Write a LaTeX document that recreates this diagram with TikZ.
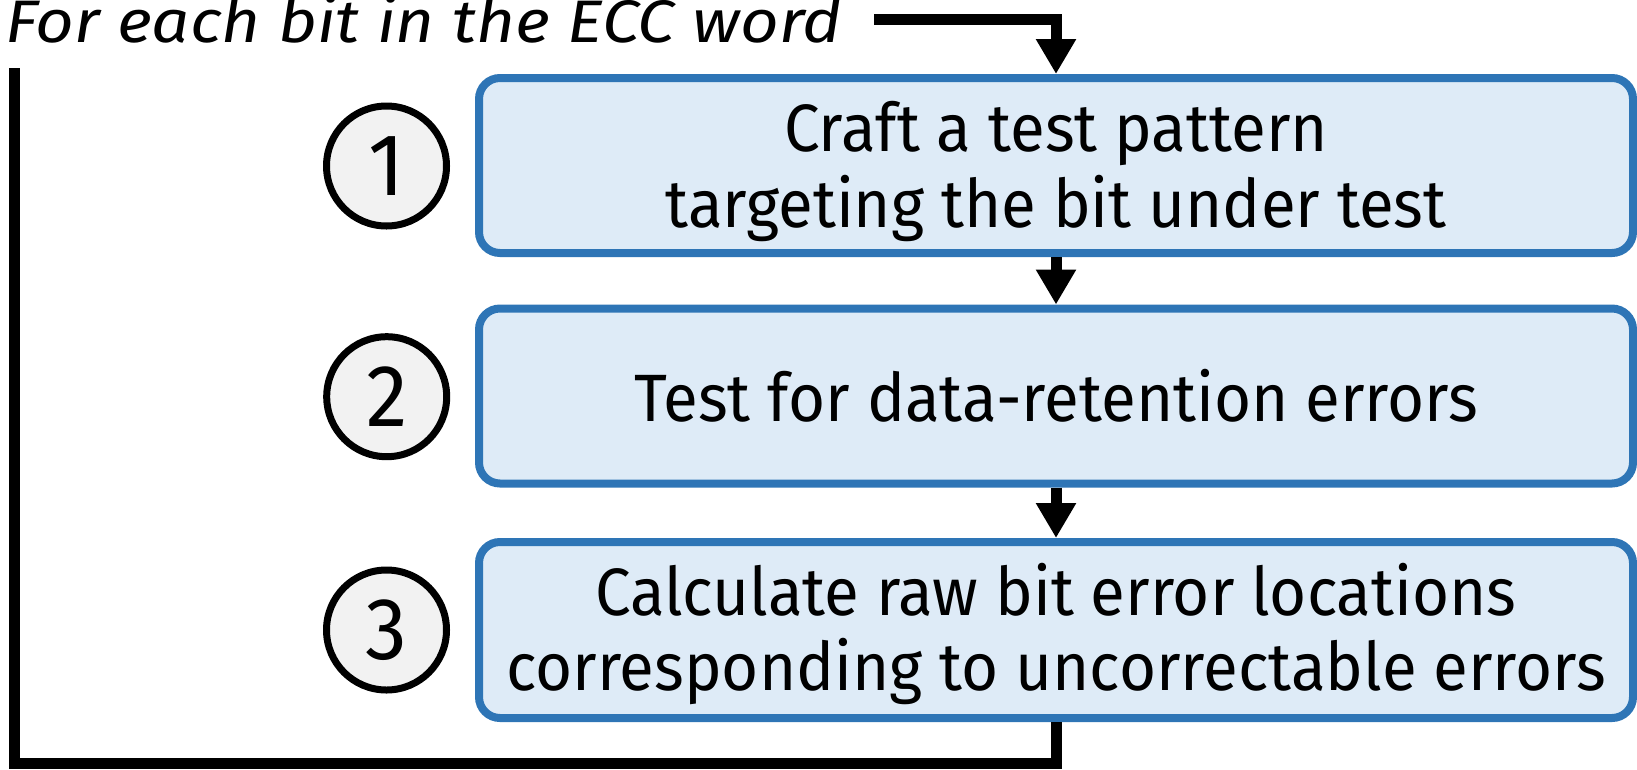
\documentclass[tikz,border=0pt]{standalone}
\usepackage{fontspec}
\setmainfont[FakeStretch=0.95]{Fira Sans}
\newfontfamily\headfont[FakeStretch=1.12]{Fira Sans}
\usetikzlibrary{arrows.meta}
\definecolor{boxblue}{HTML}{2E75B6}
\definecolor{boxfill}{HTML}{DEEBF7}
\definecolor{discfill}{HTML}{F2F2F2}
\tikzset{
  stepbox/.style={draw=boxblue, fill=boxfill, line width=8pt, rounded corners=21pt,
    minimum width=1154pt, minimum height=175pt, inner sep=0pt},
  numdisc/.style={circle, draw=black, fill=discfill, line width=7pt,
    minimum size=120pt, inner sep=0pt, font=\fontsize{88}{88}\selectfont},
  steptext/.style={anchor=base, inner sep=0pt, font=\fontsize{67}{75}\selectfont},
  flow/.style={line width=11pt, -{Triangle[width=38pt,length=35pt]}},
  loopline/.style={line width=11pt},
}
\begin{document}
\begin{tikzpicture}[x=1pt,y=-1pt]
\useasboundingbox (0,0) rectangle (1637,769);

% step boxes
\node[stepbox] (b1) at (1056,165.5) {};
\node[stepbox] (b2) at (1056,396) {};
\node[stepbox, minimum height=176pt] (b3) at (1056,630) {};

% box texts
\node[steptext] (t1a) at (1056,151.7) {Craft a test pattern};
\node[steptext] (t1b) at (1056,227) {targeting the bit under test};
\node[steptext] (t2) at (1056,421.7) {Test for data-retention errors};
\node[steptext] (t3a) at (1056,615) {Calculate raw bit error locations};
\node[steptext] (t3b) at (1056,690) {corresponding to uncorrectable errors};

% numbered discs
\node[numdisc] (c1) at (386.5,166) {1};
\node[numdisc] (c2) at (386.7,396.7) {2};
\node[numdisc] (c3) at (386.5,630) {3};

% loop heading
\node[anchor=base west, inner sep=0pt, font=\headfont\itshape\fontsize{60}{60}\selectfont]
  (title) at (5,42.7) {For each bit in the ECC word};
\coordinate (loopend) at (14.5,68);

% connectors
\draw[flow] ([xshift=32pt]title.east) -| (b1.north);
\draw[flow] (b1.south) -- (b2.north);
\draw[flow] (b2.south) -- (b3.north);
\draw[loopline] (b3.south) -- ++(0,41) -| (loopend);
\end{tikzpicture}
\end{document}
